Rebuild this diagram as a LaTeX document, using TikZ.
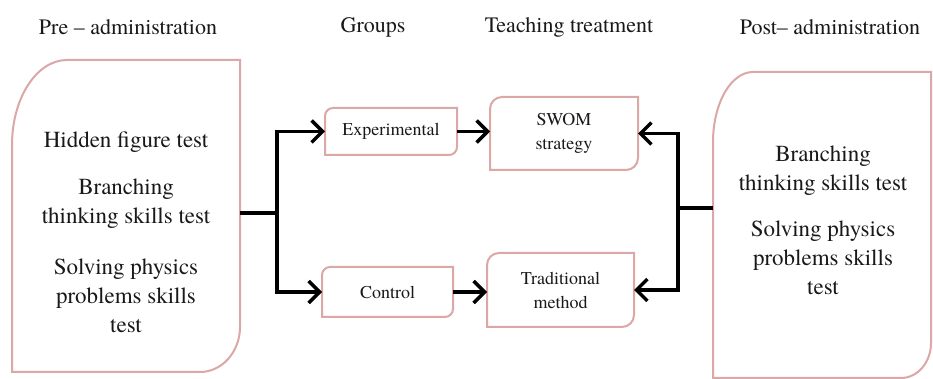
\documentclass[tikz,border=0pt]{standalone}
\usepackage{fontspec}
\IfFontExistsTF{TeX Gyre Termes}{\setmainfont{TeX Gyre Termes}}{\setmainfont{Liberation Serif}}
\usetikzlibrary{arrows.meta}
\definecolor{boxpink}{RGB}{219,167,167}
\definecolor{ink}{RGB}{25,25,25}
\newcommand\diagrect[5]{%
  \draw[boxline] (#1.south west) -- ([yshift=-#3pt]#1.north west)
    arc[start angle=180,end angle=90,x radius=#2pt,y radius=#3pt]
    -- (#1.north east) -- ([yshift=#5pt]#1.south east)
    arc[start angle=0,end angle=-90,x radius=#4pt,y radius=#5pt] -- cycle;}
\begin{document}
\begin{tikzpicture}[x=1pt,y=1pt,
  boxline/.style={draw=boxpink,line width=2pt,fill=white},
  area/.style={inner sep=0pt,outer sep=0pt,draw=none},
  smallbox/.style={area,text=ink,font=\rmfamily\fontsize{18}{24}\selectfont,align=center},
  bodytext/.style={text=ink,font=\rmfamily\fontsize{23}{29}\selectfont,align=center,inner sep=0pt},
  header/.style={text=ink,font=\rmfamily\fontsize{22}{26}\selectfont,inner sep=0pt},
  conn/.style={line width=3.5pt,draw=black},
  arr/.style={conn,-{Straight Barb[length=11pt,width=22pt]}}]
\useasboundingbox (0,0) rectangle (933,379);

% headers
\node[header] (hpre) at (128,352) {Pre – administration};
\node[header] (hgrp) at (373,352) {Groups};
\node[header] (htea) at (569,352) {Teaching treatment};
\node[header] (hpost) at (830,352) {Post– administration};

% big boxes
\node[area,minimum width=228,minimum height=312] (pre) at (126,163) {};
\diagrect{pre}{55}{85}{40}{45}
\node[bodytext] (pretext) at (126,146.5) {Hidden figure test\\[18pt]Branching\\thinking skills test\\[22pt]Solving physics\\problems skills\\test};

\node[area,minimum width=218,minimum height=306] (post) at (822,154) {};
\diagrect{post}{40}{70}{30}{35}
\node[bodytext] (posttext) at (823,159) {Branching\\thinking skills test\\[17pt]Solving physics\\problems skills\\test};

% small boxes
\node[smallbox,minimum width=132,minimum height=47] (exp) at (391,247.5) {};
\diagrect{exp}{8}{8}{8}{8}
\node[smallbox] (exptext) at (exp) {Experimental};

\node[smallbox,minimum width=148,minimum height=73] (swom) at (564,245.5) {};
\diagrect{swom}{12}{12}{12}{12}
\node[smallbox] (swomtext) at (swom) {SWOM\\strategy};

\node[smallbox,minimum width=131,minimum height=50] (ctrl) at (387.5,87) {};
\diagrect{ctrl}{8}{8}{8}{8}
\node[smallbox] (ctrltext) at (ctrl) {Control};

\node[smallbox,minimum width=147,minimum height=74] (trad) at (560.5,89) {};
\diagrect{trad}{12}{12}{12}{12}
\node[smallbox] (tradtext) at (trad) {Traditional\\method};

% connectors
\coordinate (lsplit) at (277,166);
\draw[conn] (pre.east |- lsplit) -- (lsplit);
\draw[arr] (lsplit) |- (exp.west);
\draw[arr] (lsplit) |- (ctrl.west);
\draw[arr] (exp.east) -- (exp.east -| swom.west);
\draw[arr] (ctrl.east) -- (ctrl.east -| trad.west);

\coordinate (rsplit) at (678,171);
\draw[conn] (post.west |- rsplit) -- (rsplit);
\draw[arr] (rsplit) |- (swom.east);
\draw[arr] (rsplit) |- (trad.east);
\end{tikzpicture}
\end{document}
